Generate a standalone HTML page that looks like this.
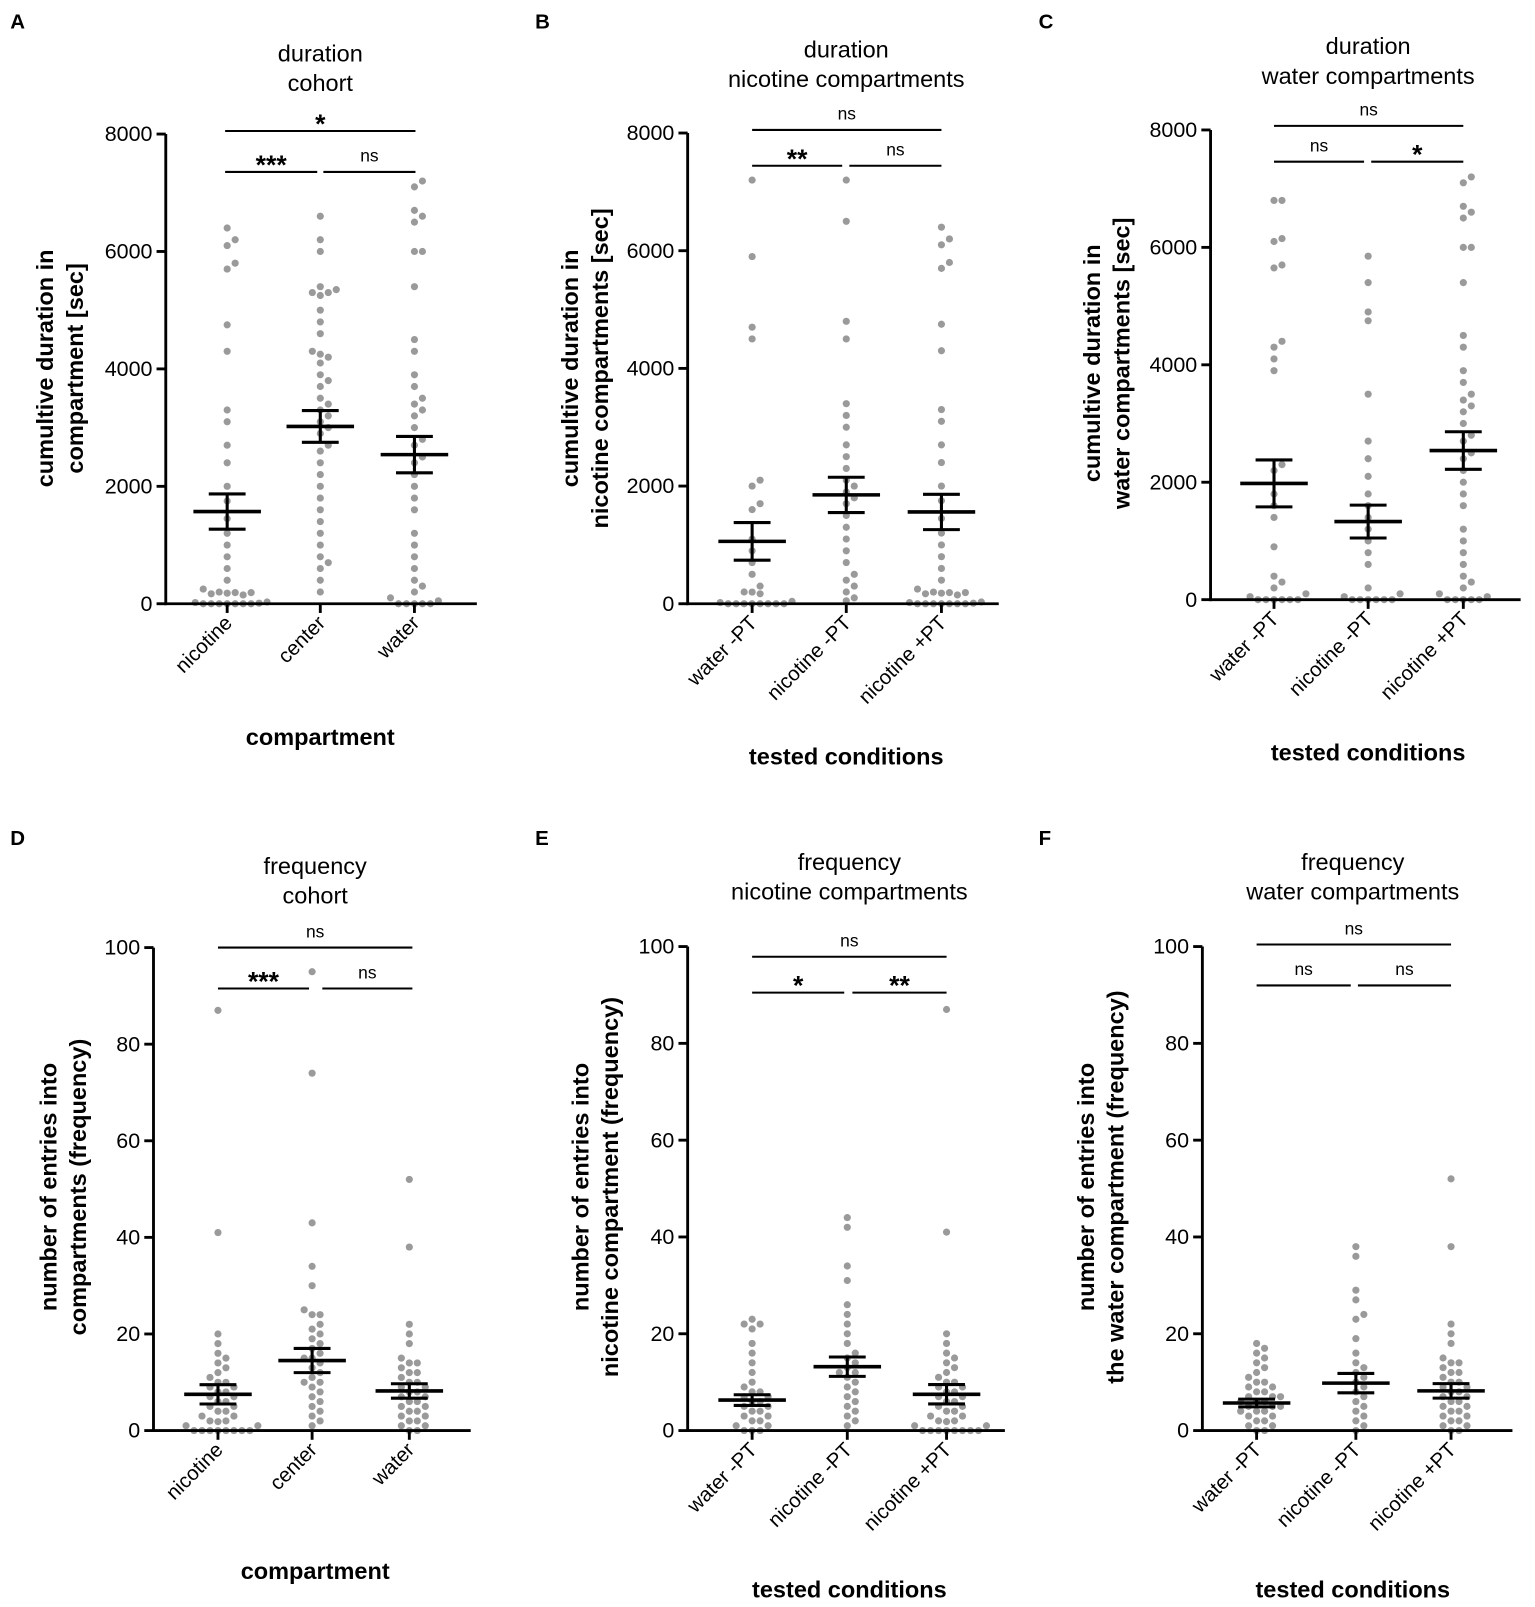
<!DOCTYPE html>
<html><head><meta charset="utf-8">
<style>
html,body{margin:0;padding:0;background:#fff;}
svg{display:block;font-family:"Liberation Sans",Arial,sans-serif;}
</style></head>
<body>
<svg width="1535" height="1607" viewBox="0 0 1535 1607" xmlns="http://www.w3.org/2000/svg"><g id="fig" transform="scale(1.0233)"></g></svg>
<script>
// ---------- data ----------
const catsCohort = ["nicotine","center","water"];
const catsTested = ["water -PT","nicotine -PT","nicotine +PT"];
const durTicks = [0,2000,4000,6000,8000];
const freqTicks = [0,20,40,60,80,100];

const durNicotine = [6400,6200,6100,5800,5700,4750,4300,3300,3100,2700,2400,2000,1750,1450,1200,1000,800,600,400,250,120,100,80,60,50,40,30,20,10,0,0,0,0,0,0,0];
const durCenter = [6600,6200,6000,5400,5350,5300,5300,5250,5000,4800,4600,4300,4250,4200,4100,3900,3800,3700,3500,3400,3300,3200,3100,3000,2900,2700,2600,2400,2200,2000,1800,1600,1400,1200,1000,800,700,600,400,200];
const durWater = [7200,7100,6700,6600,6500,6000,6000,5400,4500,4300,3900,3700,3500,3400,3300,3200,3000,2800,2700,2500,2400,2200,2000,1800,1600,1200,1000,800,600,400,300,200,100,50,0,0,0,0,0];
const durWaterNoPT = [7200,5900,4700,4500,2100,2000,1700,1600,1100,900,700,500,300,200,100,60,40,20,0,0,0,0,0,0,0,0];
const durNicNoPT = [7200,6500,4800,4500,3400,3200,3000,2700,2500,2300,2100,2000,1900,1800,1700,1500,1300,1100,900,700,500,400,300,200,100,50];
const durWaterCWater = [6800,6800,6150,6100,5700,5650,4400,4300,4100,3900,2300,2200,1800,1600,1400,900,400,300,200,100,50,0,0,0,0,0,0];
const durWaterCNic = [5850,5400,4900,4750,3500,2700,2400,2100,1800,1600,1400,1200,1000,800,600,200,100,50,0,0,0,0,0,0];

const frqNicotine = [87,41,20,18,16,15,14,13,12,11,10,10,9,9,8,8,7,7,6,6,5,5,4,4,3,3,2,2,1,1,1,0,0,0,0,0,0,0,0];
const frqCenter = [95,74,43,34,30,25,24,24,22,21,20,19,18,17,16,15,15,14,13,12,11,10,10,9,8,7,6,5,4,3,2,1];
const frqWater = [52,38,22,20,18,15,14,14,13,12,12,11,10,10,9,9,8,8,7,7,6,6,5,5,4,4,3,3,2,2,1,1,0,0];
const frqWaterNoPT = [23,22,22,21,18,16,14,12,10,9,8,8,7,7,6,6,5,5,4,4,3,3,2,2,1,1,0,0,0];
const frqNicNoPT = [44,42,34,31,26,24,22,20,18,16,15,14,13,12,12,11,10,9,8,7,6,5,4,3,2,1];
const frqFWaterNoPT = [18,17,16,15,14,13,12,11,10,10,9,9,8,8,7,7,7,6,6,6,5,5,5,4,4,4,3,3,2,2,1,1,0,0];
const frqFNicNoPT = [38,36,29,27,24,23,19,16,14,13,12,11,10,9,8,7,6,5,4,3,2,1,0];

const meansA = [1570,3020,2540], semA = [300,270,310];
const meansB = [1060,1850,1560], semB = [320,300,300];
const meansC = [1980,1330,2540], semC = [400,280,320];
const meansD = [7.5,14.5,8.2], semD = [2,2.5,1.5];
const meansE = [6.3,13.2,7.5], semE = [1.1,2,2];
const meansF = [5.7,9.8,8.2], semF = [0.8,2,1.5];

// ---------- drawing ----------
const NS="http://www.w3.org/2000/svg";
const svg=document.getElementById('fig');
function el(tag,attrs,parent){const e=document.createElementNS(NS,tag);for(const k in attrs)e.setAttribute(k,attrs[k]);(parent||svg).appendChild(e);return e;}
function txt(s,attrs,parent){const t=el('text',attrs,parent);t.textContent=s;return t;}

function panel(p){
  const g=el('g',{});
  
  
  const yS=v=>p.y0-(v/p.ymax)*(p.y0-p.ytop);
  const L=txt(p.letter,{x:p.lx,y:p.ly,'font-size':20,'font-weight':'bold'},g);
  
  
  p.title.forEach((s,i)=>{const t=txt(s,{x:p.tx,y:p.ty+i*29,'font-size':23,'text-anchor':'middle'},g);
    
    });
  p.groups.forEach((vals,gi)=>{
    const cx=p.cx[gi];const placed=[];
    const sorted=vals.slice().sort((a,b)=>a-b);
    sorted.forEach(v=>{
      let y=yS(v);let off=0,k=0;
      while(true){
        const x=cx+off;
        if(!placed.some(q=>Math.hypot(q[0]-x,q[1]-y)<7.5))break;
        k++;
        if(k>9){k=0;off=0;y-=4;continue;}
        off=(k%2?1:-1)*Math.ceil(k/2)*7.8;
      }
      placed.push([cx+off,y]);
      const c=el('circle',{cx:cx+off,cy:y,r:3.5,fill:'#9a9a9a'},g);
      
      
    });
  });
  p.means.forEach((m,gi)=>{
    const cx=p.cx[gi],ym=yS(m),yh=yS(m+p.sem[gi]),yl=yS(m-p.sem[gi]);
    const eb=el('g',{stroke:'#000','stroke-width':3,fill:'none'},g);
    
    
    el('line',{x1:cx-33,x2:cx+33,y1:ym,y2:ym,'stroke-width':3.5},eb);
    el('line',{x1:cx,x2:cx,y1:yh,y2:yl},eb);
    el('line',{x1:cx-18,x2:cx+18,y1:yh,y2:yh},eb);
    el('line',{x1:cx-18,x2:cx+18,y1:yl,y2:yl},eb);
  });
  const ax=el('g',{stroke:'#000','stroke-width':2.8},g);
  
  
  el('line',{x1:p.yx,x2:p.yx,y1:p.ytop,y2:p.y0+1.4},ax);
  el('line',{x1:p.yx-1.4,x2:p.xend,y1:p.y0,y2:p.y0},ax);
  p.ticks.forEach(t=>{
    const y=yS(t);el('line',{x1:p.yx-9,x2:p.yx,y1:y,y2:y},ax);
    const tl=txt(String(t),{x:p.yx-13,y:y+7,'font-size':21,'text-anchor':'end',stroke:'none'},g);
    
    
  });
  p.cats.forEach((c,i)=>{
    el('line',{x1:p.cx[i],x2:p.cx[i],y1:p.y0,y2:p.y0+9},ax);
    const x=p.cx[i]+6,y=p.y0+20;
    const tl=txt(c,{x:x,y:y,'font-size':20,'text-anchor':'end',transform:`rotate(-45 ${x} ${y})`},g);
    
    
  });
  p.ylab.forEach((s,i)=>{const x=p.ylx+i*29,y=p.yly;
    const t=txt(s,{x:x,y:y,'font-size':23,'font-weight':'bold','text-anchor':'middle',transform:`rotate(-90 ${x} ${y})`},g);
    
    });
  const xt=txt(p.xlab,{x:p.tx,y:p.xly,'font-size':23,'font-weight':'bold','text-anchor':'middle'},g);
  
  
  p.sig.forEach(s=>{
    const sg=el('g',{},g);
    
    
    el('line',{x1:s[0],x2:s[1],y1:s[2],y2:s[2],stroke:'#000','stroke-width':2},sg);
    const star=s[3]!=='ns';
    txt(s[3],{x:(s[0]+s[1])/2,y:s[2]-(star?-2:10),'font-size':star?26:17,'font-weight':star?'bold':'normal','text-anchor':'middle'},sg);
  });
}

panel({letter:'A',lx:10,ly:28,title:['duration','cohort'],tx:313,ty:60,groups:[durNicotine,durCenter,durWater],means:meansA,sem:semA,
  cats:catsCohort,cx:[222,313,405],yx:162,xend:466,y0:590,ytop:131,ymax:8000,ticks:durTicks,
  ylab:['cumultive duration in','compartment [sec]'],ylx:52,yly:360,xlab:'compartment',xly:728,
  sig:[[220,406,128,'*'],[220,310,168,'***'],[316,406,168,'ns']]});
panel({letter:'B',lx:523,ly:28,title:['duration','nicotine compartments'],tx:827,ty:56,groups:[durWaterNoPT,durNicNoPT,durNicotine],means:meansB,sem:semB,
  cats:catsTested,cx:[735,827,920],yx:672,xend:976,y0:590,ytop:130,ymax:8000,ticks:durTicks,
  ylab:['cumultive duration in','nicotine compartments [sec]'],ylx:565,yly:360,xlab:'tested conditions',xly:747,
  sig:[[735,920,127,'ns'],[735,823,162,'**'],[830,920,162,'ns']]});
panel({letter:'C',lx:1015,ly:28,title:['duration','water compartments'],tx:1337,ty:53,groups:[durWaterCWater,durWaterCNic,durWater],means:meansC,sem:semC,
  cats:catsTested,cx:[1245,1337,1430],yx:1183,xend:1486,y0:586,ytop:127,ymax:8000,ticks:durTicks,
  ylab:['cumultive duration in','water compartments [sec]'],ylx:1075,yly:355,xlab:'tested conditions',xly:743,
  sig:[[1245,1430,123,'ns'],[1245,1333,158,'ns'],[1340,1430,158,'*']]});
panel({letter:'D',lx:10,ly:826,title:['frequency','cohort'],tx:308,ty:854,groups:[frqNicotine,frqCenter,frqWater],means:meansD,sem:semD,
  cats:catsCohort,cx:[213,305,400],yx:150,xend:460,y0:1398,ytop:926,ymax:100,ticks:freqTicks,
  ylab:['number of entries into','compartments (frequency)'],ylx:55,yly:1160,xlab:'compartment',xly:1543,
  sig:[[213,403,926,'ns'],[213,302,966,'***'],[315,403,966,'ns']]});
panel({letter:'E',lx:523,ly:826,title:['frequency','nicotine compartments'],tx:830,ty:850,groups:[frqWaterNoPT,frqNicNoPT,frqNicotine],means:meansE,sem:semE,
  cats:catsTested,cx:[735,828,925],yx:672,xend:982,y0:1398,ytop:925,ymax:100,ticks:freqTicks,
  ylab:['number of entries into','nicotine compartment (frequency)'],ylx:575,yly:1160,xlab:'tested conditions',xly:1561,
  sig:[[735,925,935,'ns'],[735,825,970,'*'],[833,925,970,'**']]});
panel({letter:'F',lx:1015,ly:826,title:['frequency','water compartments'],tx:1322,ty:850,groups:[frqFWaterNoPT,frqFNicNoPT,frqWater],means:meansF,sem:semF,
  cats:catsTested,cx:[1228,1325,1418],yx:1175,xend:1478,y0:1398,ytop:925,ymax:100,ticks:freqTicks,
  ylab:['number of entries into','the water compartment (frequency)'],ylx:1069,yly:1160,xlab:'tested conditions',xly:1561,
  sig:[[1228,1418,923,'ns'],[1228,1320,963,'ns'],[1327,1418,963,'ns']]});
</script>
</body></html>
